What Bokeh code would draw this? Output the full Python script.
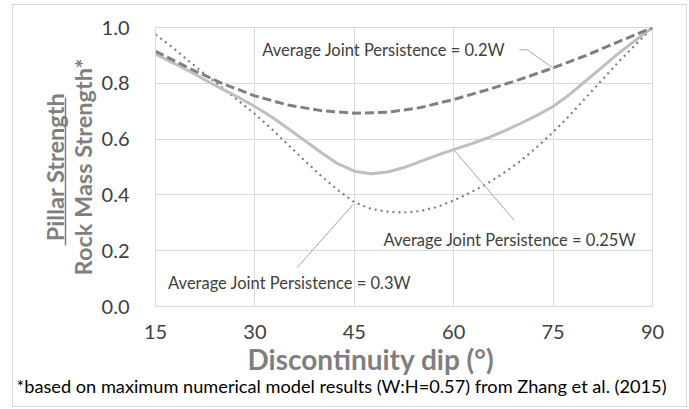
from bokeh.plotting import figure
from bokeh.models import FixedTicker, Range1d, CustomJSTickFormatter, LinearAxis, Title, Label
from bokeh.embed import file_html
from bokeh.resources import INLINE

# ---- data ----
dip_02 = [15, 20, 25, 30, 35, 40, 45, 50, 55, 60, 65, 70, 75, 80, 85, 90]
ratio_02 = [0.915, 0.855, 0.80, 0.755, 0.722, 0.702, 0.693, 0.696, 0.713, 0.742,
            0.776, 0.814, 0.855, 0.90, 0.95, 1.0]

dip_025 = [15, 17.5, 20, 22.5, 25, 27.5, 30, 32.5, 35, 37.5, 40, 42.5, 45, 47.5, 50,
           52.5, 55, 57.5, 60, 62.5, 65, 67.5, 70, 72.5, 75, 77.5, 80, 82.5, 85, 87.5, 90]
ratio_025 = [0.905, 0.875, 0.845, 0.812, 0.78, 0.75, 0.717, 0.68, 0.638, 0.595, 0.552,
             0.512, 0.485, 0.476, 0.482, 0.498, 0.52, 0.542, 0.562, 0.582, 0.603, 0.628,
             0.655, 0.684, 0.717, 0.76, 0.81, 0.86, 0.91, 0.955, 1.0]

dip_03 = [15, 17.5, 20, 22.5, 25, 27.5, 30, 32.5, 35, 37.5, 40, 42.5, 45, 47.5, 50,
          52.5, 55, 57.5, 60, 62.5, 65, 67.5, 70, 72.5, 75, 77.5, 80, 82.5, 85, 87.5, 90]
ratio_03 = [0.975, 0.93, 0.88, 0.832, 0.785, 0.738, 0.69, 0.637, 0.58, 0.523, 0.468,
            0.418, 0.374, 0.35, 0.34, 0.337, 0.342, 0.357, 0.38, 0.408, 0.44, 0.478,
            0.52, 0.57, 0.625, 0.685, 0.75, 0.815, 0.88, 0.94, 1.0]

x_ticks = [15, 30, 45, 60, 75, 90]
y_ticks = [0.0, 0.2, 0.4, 0.6, 0.8, 1.0]

label_02 = "Average Joint Persistence = 0.2W"
label_025 = "Average Joint Persistence = 0.25W"
label_03 = "Average Joint Persistence  = 0.3W"
x_title = "Discontinuity dip (°)"
y_title_top = "Pillar Strength"
y_title_bottom = "Rock Mass Strength*"
footnote = "*based on maximum numerical model results (W:H=0.57) from Zhang et al. (2015)"

FONT = "Lato"
GRID = "#d9d9d9"
TXT = "#404040"
TITLE_C = "#7f7f7f"

# chart area with a thin light border, placed like the reference (12 px in, 4 px down)
p = figure(width=675, height=403, x_range=Range1d(15, 90), y_range=Range1d(0, 1),
           output_backend="svg", toolbar_location=None,
           min_border_left=142, min_border_right=36, min_border_top=22,
           min_border_bottom=102)
p.margin = (4, 0, 0, 12)
p.styles = {"border": "1px solid #d9d9d9"}
p.outline_line_color = GRID
p.background_fill_color = "white"
p.border_fill_color = "white"

p.xaxis.ticker = FixedTicker(ticks=x_ticks)
p.yaxis.ticker = FixedTicker(ticks=y_ticks)
p.yaxis.formatter = CustomJSTickFormatter(code="return tick.toFixed(1);")

for ax in (p.xaxis, p.yaxis):
    ax.axis_line_color = GRID
    ax.major_tick_line_color = None
    ax.minor_tick_line_color = None
    ax.major_label_text_font = FONT
    ax.major_label_text_font_size = "20px"
    ax.major_label_text_color = TXT
p.yaxis.major_label_standoff = 20
p.xaxis.major_label_standoff = 12

p.xgrid.grid_line_color = GRID
p.ygrid.grid_line_color = GRID

# series
p.line(dip_03, ratio_03, line_color="#7f7f7f", line_width=2.2, line_dash="2 4")
p.line(dip_025, ratio_025, line_color="#bfbfbf", line_width=3)
p.line(dip_02, ratio_02, line_color="#808080", line_width=3, line_dash="9 4")

# leader lines
LEAD = "#a6a6a6"
p.line([69.9, 71.1, 75.1], [0.92, 0.92, 0.853], line_color=LEAD, line_width=1)
p.line([69.1, 60.1], [0.31, 0.559], line_color=LEAD, line_width=1)
p.line([36.4, 44.8], [0.14, 0.365], line_color=LEAD, line_width=1)

for txt, x, y in [(label_02, 31.1, 0.918), (label_025, 49.4, 0.238), (label_03, 16.9, 0.086)]:
    p.add_layout(Label(x=x, y=y, text=txt, text_font=FONT, text_font_size="16.5px",
                       text_color=TXT, text_baseline="middle", text_align="left"))

# y-axis title: "Rock Mass Strength*" next to the axis, then an underline, then "Pillar Strength"
p.add_layout(Title(text=y_title_bottom, align="center", standoff=3, offset=2,
                   text_font=FONT, text_font_style="bold", text_font_size="23.5px",
                   text_color=TITLE_C), "left")
underline = LinearAxis(ticker=FixedTicker(ticks=[]), bounds=(0.219, 0.749),
                       axis_line_color=TITLE_C, axis_line_width=1.5,
                       major_tick_line_color=None, minor_tick_line_color=None,
                       major_label_standoff=0, major_tick_out=0, major_tick_in=0)
p.add_layout(underline, "left")
p.add_layout(Title(text=y_title_top, align="center", standoff=-6, offset=-4,
                   text_font=FONT, text_font_style="bold", text_font_size="23.5px",
                   text_color=TITLE_C), "left")

# x-axis title and footnote
p.add_layout(Title(text=x_title, align="left", standoff=-4, offset=92,
                   text_font=FONT, text_font_style="bold", text_font_size="28px",
                   text_color=TITLE_C), "below")
p.add_layout(Title(text=footnote, align="left", standoff=-1, offset=-139,
                   text_font=FONT, text_font_style="normal", text_font_size="18.2px",
                   text_color="#000000"), "below")

open("out.html", "w").write(file_html(p, INLINE))
